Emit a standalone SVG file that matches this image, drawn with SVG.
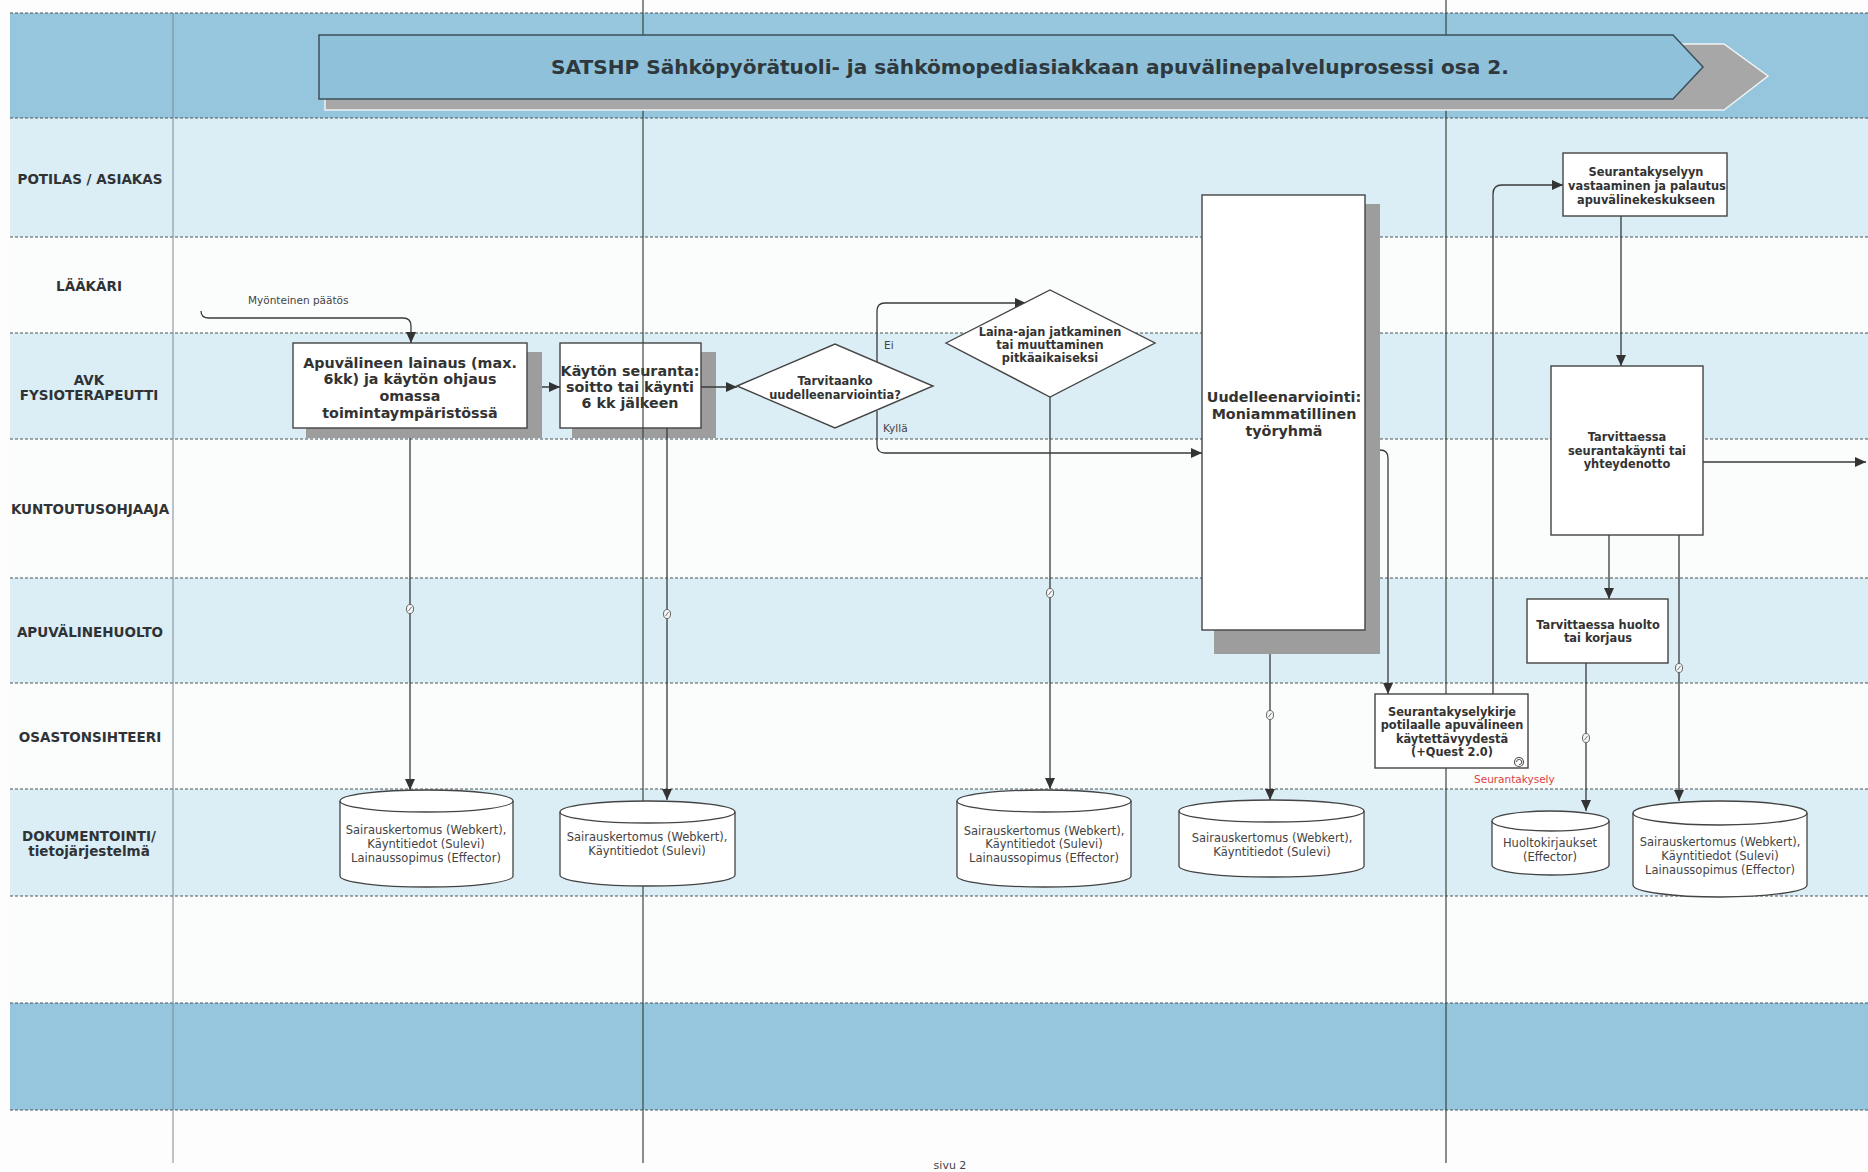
<svg xmlns="http://www.w3.org/2000/svg" width="1868" height="1172" viewBox="0 0 1868 1172">
  <defs>
    <marker id="arr" markerUnits="userSpaceOnUse" markerWidth="11" markerHeight="10" refX="11" refY="5" orient="auto">
      <path d="M0,0 L11,5 L0,10 z" fill="#333"/>
    </marker>
    <style>
      .bd { fill: #95c6dd; }
      .bl { fill: #dbedf5; }
      .bw { fill: #fbfcfc; }
      .dash { stroke: #4c555a; stroke-width: 1.2; stroke-dasharray: 3 2; fill: none; }
      .col { stroke: #3a473d; stroke-width: 1.2; fill: none; }
      .col0 { stroke: #7b8a96; stroke-width: 1; fill: none; }
      .lane { font-family: "DejaVu Sans", Verdana, sans-serif; font-weight: bold; font-size: 13.5px; fill: #2f3336; text-anchor: middle; }
      .box { fill: #fff; stroke: #444; stroke-width: 1.4; }
      .shadow { fill: #9d9d9d; }
      .bt { font-family: "DejaVu Sans", Verdana, sans-serif; font-weight: bold; font-size: 14.3px; fill: #333; text-anchor: middle; }
      .st { font-family: "DejaVu Sans", Verdana, sans-serif; font-weight: bold; font-size: 11.4px; fill: #333; text-anchor: middle; }
      .ct { font-family: "DejaVu Sans", Verdana, sans-serif; font-size: 11.5px; fill: #444; text-anchor: middle; }
      .lbl { font-family: "DejaVu Sans", Verdana, sans-serif; font-size: 10.5px; fill: #444; }
      .conn { fill: none; stroke: #3a3a3a; stroke-width: 1.3; marker-end: url(#arr); }
      .cyl { fill: #fff; stroke: #444; stroke-width: 1.3; }
      .cap { fill: none; stroke: #444; stroke-width: 1.3; }
      .mk { fill: #f4f6f7; stroke: #666; stroke-width: 1; }
    </style>
  </defs>

  <!-- page background and swimlane bands -->
  <rect x="0" y="0" width="1868" height="1172" fill="#fdfdfd"/>
  <g id="bands">
    <rect class="bd" x="10" y="13" width="1858" height="105"/>
    <rect class="bl" x="10" y="118" width="1858" height="119"/>
    <rect class="bw" x="10" y="237" width="1858" height="96"/>
    <rect class="bl" x="10" y="333" width="1858" height="106"/>
    <rect class="bw" x="10" y="439" width="1858" height="139"/>
    <rect class="bl" x="10" y="578" width="1858" height="105"/>
    <rect class="bw" x="10" y="683" width="1858" height="106"/>
    <rect class="bl" x="10" y="789" width="1858" height="107"/>
    <rect class="bw" x="10" y="896" width="1858" height="107"/>
    <rect class="bd" x="10" y="1003" width="1858" height="107"/>
    <path class="dash" d="M10 13H1868M10 118H1868M10 237H1868M10 333H1868M10 439H1868M10 578H1868M10 683H1868M10 789H1868M10 896H1868M10 1003H1868M10 1110H1868"/>
  </g>

  <!-- lane titles -->
  <g id="lanes">
    <text class="lane" x="90" y="184">POTILAS / ASIAKAS</text>
    <text class="lane" x="89" y="291">LÄÄKÄRI</text>
    <text class="lane" x="89" y="385">AVK</text>
    <text class="lane" x="89" y="400">FYSIOTERAPEUTTI</text>
    <text class="lane" x="90" y="514">KUNTOUTUSOHJAAJA</text>
    <text class="lane" x="90" y="637">APUVÄLINEHUOLTO</text>
    <text class="lane" x="90" y="742">OSASTONSIHTEERI</text>
    <text class="lane" x="89" y="841">DOKUMENTOINTI/</text>
    <text class="lane" x="89" y="856">tietojärjestelmä</text>
  </g>

  <!-- follow-up step sits under the column rule -->
  <g id="n-seuranta6kk">
    <rect class="shadow" x="572" y="352" width="144" height="86"/>
    <rect class="box" x="560" y="343" width="141" height="85"/>
    <text class="bt" x="630" y="376">Käytön seuranta:</text>
    <text class="bt" x="630" y="392">soitto tai käynti</text>
    <text class="bt" x="630" y="408">6 kk jälkeen</text>
  </g>

  <!-- column rules -->
  <g id="columns">
    <line class="col0" x1="173" y1="13" x2="173" y2="1163"/>
    <line class="col" x1="643" y1="0" x2="643" y2="1163"/>
    <line class="col" x1="1446" y1="0" x2="1446" y2="1163"/>
  </g>

  <!-- title banner -->
  <g id="title">
    <polygon points="325,44 1724,44 1768,76 1724,110 325,110" fill="#a7a7a7" stroke="#eef2f4" stroke-width="1.5"/>
    <polygon points="319,35 1673,35 1703,67 1673,99 319,99" fill="#8fc2da" stroke="#3c4f5a" stroke-width="1.5"/>
    <text x="1030" y="74" font-family="DejaVu Sans, Verdana, sans-serif" font-weight="bold" font-size="19" fill="#2e383d" text-anchor="middle" textLength="958" lengthAdjust="spacingAndGlyphs">SATSHP Sähköpyörätuoli- ja sähkömopediasiakkaan apuvälinepalveluprosessi osa 2.</text>
  </g>

  <!-- connectors -->
  <g id="connectors">
    <path class="conn" d="M201 311 Q201 318 209 318 L403 318 Q411 318 411 326 L411 343"/>
    <text class="lbl" x="248" y="304">Myönteinen päätös</text>
    <path class="conn" d="M527 387 L560 387"/>
    <path class="conn" d="M701 387 L737 387"/>
    <path class="conn" d="M877 362 L877 311 Q877 303 885 303 L1026 303"/>
    <text class="lbl" x="884" y="349">Ei</text>
    <path class="conn" d="M877 411 L877 445 Q877 453 885 453 L1202 453"/>
    <text class="lbl" x="883" y="432">Kyllä</text>
    <path class="conn" d="M410 428 L410 790"/>
    <path class="conn" d="M667 428 L667 800"/>
    <path class="conn" d="M1050 397 L1050 789"/>
    <path class="conn" d="M1270 630 L1270 800"/>
    <path class="conn" d="M1365 450 L1380 450 Q1388 450 1388 458 L1388 694"/>
    <path class="conn" d="M1493 694 L1493 194 Q1493 185 1502 185 L1563 185"/>
    <path class="conn" d="M1621 216 L1621 366"/>
    <path class="conn" d="M1703 462 L1866 462"/>
    <path class="conn" d="M1609 535 L1609 599"/>
    <path class="conn" d="M1679 535 L1679 801"/>
    <path class="conn" d="M1586 663 L1586 811"/>
    <!-- link markers on the documentation lines -->
    <g id="markers">
      <ellipse class="mk" cx="410" cy="609" rx="3.5" ry="4.5"/>
      <line x1="408.5" y1="611" x2="411.5" y2="607" stroke="#666" stroke-width="0.9"/>
      <ellipse class="mk" cx="667" cy="614" rx="3.5" ry="4.5"/>
      <line x1="665.5" y1="616" x2="668.5" y2="612" stroke="#666" stroke-width="0.9"/>
      <ellipse class="mk" cx="1050" cy="593" rx="3.5" ry="4.5"/>
      <line x1="1048.5" y1="595" x2="1051.5" y2="591" stroke="#666" stroke-width="0.9"/>
      <ellipse class="mk" cx="1270" cy="715" rx="3.5" ry="4.5"/>
      <line x1="1268.5" y1="717" x2="1271.5" y2="713" stroke="#666" stroke-width="0.9"/>
      <ellipse class="mk" cx="1679" cy="668" rx="3.5" ry="4.5"/>
      <line x1="1677.5" y1="670" x2="1680.5" y2="666" stroke="#666" stroke-width="0.9"/>
      <ellipse class="mk" cx="1586" cy="738" rx="3.5" ry="4.5"/>
      <line x1="1584.5" y1="740" x2="1587.5" y2="736" stroke="#666" stroke-width="0.9"/>
    </g>
  </g>

  <!-- process steps -->
  <g id="n-lainaus">
    <rect class="shadow" x="306" y="352" width="236" height="86"/>
    <rect class="box" x="293" y="343" width="234" height="85"/>
    <text class="bt" x="410" y="368">Apuvälineen lainaus (max.</text>
    <text class="bt" x="410" y="384">6kk) ja käytön ohjaus</text>
    <text class="bt" x="410" y="401">omassa</text>
    <text class="bt" x="410" y="418">toimintaympäristössä</text>
  </g>

  <g id="n-tarvitaanko">
    <polygon class="box" points="737,386 835,344 933,386 835,428"/>
    <text class="st" x="835" y="385">Tarvitaanko</text>
    <text class="st" x="835" y="399">uudelleenarviointia?</text>
  </g>

  <g id="n-lainaaika">
    <polygon class="box" points="946,343 1050,290 1155,343 1050,397"/>
    <text class="st" x="1050" y="336">Laina-ajan jatkaminen</text>
    <text class="st" x="1050" y="349">tai muuttaminen</text>
    <text class="st" x="1050" y="362">pitkäaikaiseksi</text>
  </g>

  <g id="n-uudelleenarviointi">
    <rect class="shadow" x="1214" y="204" width="166" height="450"/>
    <rect class="box" x="1202" y="195" width="163" height="435"/>
    <text class="bt" x="1284" y="402">Uudelleenarviointi:</text>
    <text class="bt" x="1284" y="419">Moniammatillinen</text>
    <text class="bt" x="1284" y="436">työryhmä</text>
  </g>

  <g id="n-kyselykirje">
    <rect class="box" x="1375" y="694" width="153" height="74"/>
    <text class="st" x="1452" y="716">Seurantakyselykirje</text>
    <text class="st" x="1452" y="729">potilaalle apuvälineen</text>
    <text class="st" x="1452" y="743">käytettävyydestä</text>
    <text class="st" x="1452" y="756">(+Quest 2.0)</text>
    <circle cx="1519" cy="762" r="4.5" fill="#fff" stroke="#555" stroke-width="1.2"/>
    <path d="M1516.5 762 A2.6 2.6 0 1 1 1519 764.6" fill="none" stroke="#555" stroke-width="1"/>
    <text class="lbl" x="1474" y="783" style="fill:#e0413f">Seurantakysely</text>
  </g>

  <g id="n-vastaaminen">
    <rect class="box" x="1563" y="153" width="164" height="63"/>
    <text class="st" x="1646" y="176">Seurantakyselyyn</text>
    <text class="st" x="1647" y="190">vastaaminen ja palautus</text>
    <text class="st" x="1646" y="204">apuvälinekeskukseen</text>
  </g>

  <g id="n-seurantakaynti">
    <rect class="box" x="1551" y="366" width="152" height="169"/>
    <text class="st" x="1627" y="441">Tarvittaessa</text>
    <text class="st" x="1627" y="455">seurantakäynti tai</text>
    <text class="st" x="1627" y="468">yhteydenotto</text>
  </g>

  <g id="n-huolto">
    <rect class="box" x="1527" y="599" width="141" height="64"/>
    <text class="st" x="1598" y="629">Tarvittaessa huolto</text>
    <text class="st" x="1598" y="642">tai korjaus</text>
  </g>

  <!-- documentation stores -->
  <g id="d-doc1">
    <path class="cyl" d="M340 801 A86.5 11 0 0 1 513 801 L513 876 A86.5 11 0 0 1 340 876 Z"/>
    <path class="cap" d="M340 801 A86.5 11 0 0 0 513 801"/>
    <text class="ct" x="426" y="834">Sairauskertomus (Webkert),</text>
    <text class="ct" x="426" y="848">Käyntitiedot (Sulevi)</text>
    <text class="ct" x="426" y="862">Lainaussopimus (Effector)</text>
  </g>
  <g id="d-doc2">
    <path class="cyl" d="M560 812 A87.5 11 0 0 1 735 812 L735 875 A87.5 11 0 0 1 560 875 Z"/>
    <path class="cap" d="M560 812 A87.5 11 0 0 0 735 812"/>
    <text class="ct" x="647" y="841">Sairauskertomus (Webkert),</text>
    <text class="ct" x="647" y="855">Käyntitiedot (Sulevi)</text>
  </g>
  <g id="d-doc3">
    <path class="cyl" d="M957 801 A87 11 0 0 1 1131 801 L1131 876 A87 11 0 0 1 957 876 Z"/>
    <path class="cap" d="M957 801 A87 11 0 0 0 1131 801"/>
    <text class="ct" x="1044" y="835">Sairauskertomus (Webkert),</text>
    <text class="ct" x="1044" y="848">Käyntitiedot (Sulevi)</text>
    <text class="ct" x="1044" y="862">Lainaussopimus (Effector)</text>
  </g>
  <g id="d-doc4">
    <path class="cyl" d="M1179 811 A92.5 11 0 0 1 1364 811 L1364 866 A92.5 11 0 0 1 1179 866 Z"/>
    <path class="cap" d="M1179 811 A92.5 11 0 0 0 1364 811"/>
    <text class="ct" x="1272" y="842">Sairauskertomus (Webkert),</text>
    <text class="ct" x="1272" y="856">Käyntitiedot (Sulevi)</text>
  </g>
  <g id="d-doc5">
    <path class="cyl" d="M1492 821 A58.5 10 0 0 1 1609 821 L1609 865 A58.5 10 0 0 1 1492 865 Z"/>
    <path class="cap" d="M1492 821 A58.5 10 0 0 0 1609 821"/>
    <text class="ct" x="1550" y="847">Huoltokirjaukset</text>
    <text class="ct" x="1550" y="861">(Effector)</text>
  </g>
  <g id="d-doc6">
    <path class="cyl" d="M1633 813 A87 12 0 0 1 1807 813 L1807 885 A87 12 0 0 1 1633 885 Z"/>
    <path class="cap" d="M1633 813 A87 12 0 0 0 1807 813"/>
    <text class="ct" x="1720" y="846">Sairauskertomus (Webkert),</text>
    <text class="ct" x="1720" y="860">Käyntitiedot (Sulevi)</text>
    <text class="ct" x="1720" y="874">Lainaussopimus (Effector)</text>
  </g>

  <!-- page footer -->
  <text x="950" y="1169" font-family="DejaVu Sans, Verdana, sans-serif" font-size="11" fill="#444" text-anchor="middle">sivu 2</text>
</svg>
